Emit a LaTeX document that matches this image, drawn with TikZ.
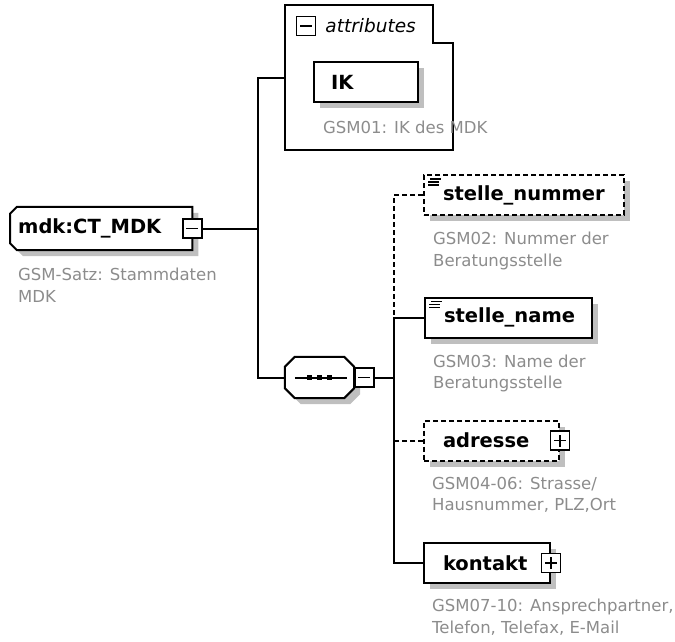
\documentclass[tikz,border=0pt]{standalone}
\usepackage{fontspec}
\setmainfont{DejaVu Sans}
\usetikzlibrary{positioning,shadows}
\pgfdeclarelayer{back}
\pgfsetlayers{back,main}

\begin{document}
\begin{tikzpicture}[
        x=1pt, y=-1pt,
        font=\fontsize{16.5}{21.5}\selectfont,
        boxshadow/.style={general shadow={fill=black!25, shadow xshift=6pt, shadow yshift=-6pt}},
        elem/.style={rectangle, draw=black, line width=2pt, fill=white, boxshadow,
                    anchor=west, minimum height=40pt, inner xsep=19pt, inner ysep=0pt,
                    align=left, font=\bfseries\fontsize{19.5}{22}\selectfont},
        rootbox/.style={anchor=west, minimum height=43pt, inner xsep=8pt, inner ysep=0pt,
                    align=left, font=\bfseries\fontsize{19.5}{22}\selectfont},
        optional/.style={dash pattern=on 5pt off 3pt},
        toggle/.style={rectangle, draw=black, line width=1.5pt, fill=white,
                    minimum size=19pt, inner sep=0pt},
        desc/.style={anchor=west, inner sep=0pt, align=left, text=black!45},
        link/.style={line width=2pt},
        txticon/.style={line width=1.2pt}
    ]

    \useasboundingbox (0,0) rectangle (675,641);

    % Root element
    \node[rootbox, text width=166pt] (root) at (10,228.5) {mdk:CT\_MDK};
    \begin{pgfonlayer}{back}
        \filldraw[link, fill=white, boxshadow] ([xshift=7pt]root.north west) -- (root.north east)
            -- (root.south east) -- ([xshift=7pt]root.south west)
            -- ([yshift=7pt]root.south west) -- ([yshift=-7pt]root.north west) -- cycle;
    \end{pgfonlayer}
    \node[toggle] (roottoggle) at (root.east) {};
    \node[desc] (rootdesc) at (18,285) {GSM-Satz: Stammdaten\\MDK};

    % Attributes
    \draw[link] (285,150) -- (285,5) -- (433,5) -- (433,43) -- (453,43) -- (453,150) -- cycle;
    \coordinate (attrin) at (285,78);
    \node[toggle] (attrtoggle) at (306,26) {};
    \node[right=9pt of attrtoggle, inner sep=0pt, font=\itshape\fontsize{18.5}{22}\selectfont] (attrlabel) {attributes};
    \node[elem, inner xsep=17pt, text width=70pt] (ik) at (313,82) {IK};
    \node[desc] (ikdesc) at (323,127) {GSM01: IK des MDK};

    % Sequence compositor
    \node[minimum width=69pt, minimum height=41pt, inner sep=0pt] (seq) at (319.5,377.5) {};
    \begin{pgfonlayer}{back}
        \filldraw[link, fill=white, boxshadow] ([xshift=10pt]seq.north west) -- ([xshift=-10pt]seq.north east)
            -- ([yshift=-10pt]seq.north east) -- ([yshift=10pt]seq.south east)
            -- ([xshift=-10pt]seq.south east) -- ([xshift=10pt]seq.south west)
            -- ([yshift=10pt]seq.south west) -- ([yshift=-10pt]seq.north west) -- cycle;
    \end{pgfonlayer}
    \draw[link] ([xshift=10pt]seq.west) -- ([xshift=-7pt]seq.east);
    \foreach \dx in {-10,0,10}
        \fill ([xshift=\dx pt]seq.center) +(-2.5,-2.5) rectangle +(2.5,2.5);
    \node[toggle, anchor=west] (seqtoggle) at (seq.east) {};

    % Trunks
    \coordinate (fork) at (258,228.5);
    \draw[link] (roottoggle.east) -- (fork);
    \draw[link] (attrin) -| (fork) |- (seq.west);
    \coordinate (fork2) at (394,377.5);
    \draw[link] (seqtoggle.east) -- (fork2);

    % Child elements
    \node[elem, optional, text width=162pt] (nummer) at (423,195) {stelle\_nummer};
    \node[elem, text width=129pt] (name) at (424,317.5) {stelle\_name};
    \node[elem, optional, text width=97pt] (adresse) at (423,440.5) {adresse};
    \node[elem, text width=88pt] (kontakt) at (423,563) {kontakt};
    \node[toggle] (adressetoggle) at (adresse.east) {};
    \node[toggle] (kontakttoggle) at (kontakt.east) {};

    % Text content marks
    \foreach \el in {nummer,name}
        \foreach \dy/\dx in {5/7,8/5,11/5}
            \draw[txticon] ([shift={(\dx pt,-\dy pt)}]\el.north west) -- ++(11,0);

    % Toggle signs
    \foreach \t in {roottoggle,attrtoggle,seqtoggle,adressetoggle,kontakttoggle}
        \draw[txticon] ([xshift=-6pt]\t.center) -- ([xshift=6pt]\t.center);
    \foreach \t in {adressetoggle,kontakttoggle}
        \draw[txticon] ([yshift=-6pt]\t.center) -- ([yshift=6pt]\t.center);

    % Branches
    \draw[link, optional] (nummer.west) -| (fork2 |- name.west);
    \draw[link] (name.west) -| (fork2) |- (kontakt.west);
    \draw[link, optional] (adresse.west) -- (adresse.west -| fork2);

    % Descriptions
    \node[desc] (nummerdesc) at (433,251) {GSM02: Nummer der\\Beratungsstelle};
    \node[desc] (namedesc) at (433,373.5) {GSM03: Name der\\Beratungsstelle};
    \node[desc] (adressedesc) at (432,495) {GSM04-06: Strasse/\\Hausnummer, PLZ,Ort};
    \node[desc] (kontaktdesc) at (432,617) {GSM07-10: Ansprechpartner,\\Telefon, Telefax, E-Mail};

\end{tikzpicture}
\end{document}
